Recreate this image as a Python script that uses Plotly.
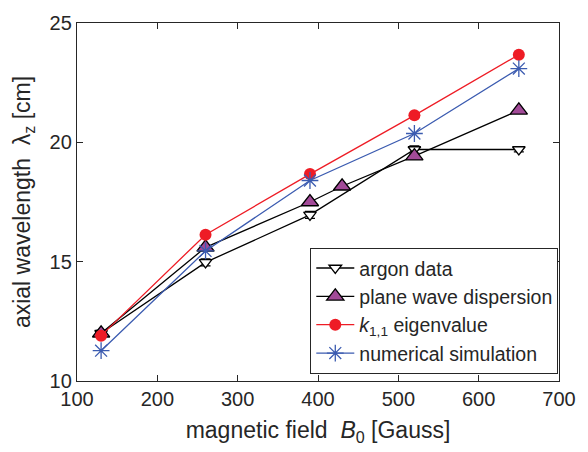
import plotly.graph_objects as go

# magnetic field values [Gauss]
b_field = [130, 260, 390, 520, 650]
b_field_pw = [130, 260, 390, 430, 520, 650]

# axial wavelength [cm]
argon_data = [12.0, 14.97, 16.96, 19.7, 19.7]
argon_err = [0.12, 0.15, 0.15, 0.15, 0.1]
plane_wave = [12.0, 15.6, 17.5, 18.16, 19.42, 21.34]
k11_eig = [11.9, 16.13, 18.67, 21.13, 23.67]
num_sim = [11.27, 15.45, 18.4, 20.37, 23.09]

axis_color = "#262626"
font_family = "Liberation Sans, Arial, sans-serif"
gap = "\u00a0" * 2

fig = go.Figure()

fig.add_trace(go.Scatter(
    x=b_field, y=argon_data, name="argon data", mode="lines+markers",
    line=dict(color="black", width=1.3),
    marker=dict(symbol="triangle-down", size=11, color="white",
                line=dict(color="black", width=1.3)),
    error_y=dict(type="data", array=argon_err, color="black",
                 thickness=1.2, width=5),
))
fig.add_trace(go.Scatter(
    x=b_field_pw, y=plane_wave, name="plane wave dispersion", mode="lines+markers",
    line=dict(color="black", width=1.3),
    marker=dict(symbol="triangle-up", size=15, color="#a24a98",
                line=dict(color="black", width=1.3)),
))
fig.add_trace(go.Scatter(
    x=b_field, y=k11_eig, name="<i>k</i><sub>1,1</sub> eigenvalue", mode="lines+markers",
    line=dict(color="#ee1c25", width=1.3),
    marker=dict(symbol="circle", size=12, color="#ee1c25"),
))
fig.add_trace(go.Scatter(
    x=b_field, y=num_sim, name="numerical simulation", mode="lines+markers",
    line=dict(color="#3b5bb0", width=1.3),
    marker=dict(symbol="asterisk-open", size=14, color="#3b5bb0",
                line=dict(color="#3b5bb0", width=1.3)),
))

axis_common = dict(
    showline=True, linecolor=axis_color, linewidth=1.3, mirror="ticks",
    ticks="inside", ticklen=6, tickwidth=1.2, tickcolor=axis_color,
    showgrid=False, zeroline=False,
    tickfont=dict(size=20, color=axis_color, family=font_family),
)

fig.update_layout(
    width=588, height=452,
    margin=dict(l=77, r=19, t=16, b=71),
    paper_bgcolor="white", plot_bgcolor="white",
    font=dict(family=font_family, color=axis_color),
    xaxis=dict(range=[100, 700], tickvals=[100, 200, 300, 400, 500, 600, 700],
               title=dict(text="magnetic field" + gap + "<i>B</i><sub>0</sub> [Gauss]",
                          font=dict(size=23, color=axis_color), standoff=12),
               **axis_common),
    yaxis=dict(range=[10, 25], tickvals=[10, 15, 20, 25],
               title=dict(text="axial wavelength" + gap + "λ<sub>z</sub> [cm]",
                          font=dict(size=23, color=axis_color), standoff=12),
               **axis_common),
    legend=dict(x=0.484, y=0.02, xanchor="left", yanchor="bottom",
                bgcolor="white", bordercolor="#262626", borderwidth=1,
                font=dict(size=19.5, color="#262626", family=font_family),
                itemwidth=38, tracegroupgap=0),
    showlegend=True,
)

fig.write_html("out.html")
